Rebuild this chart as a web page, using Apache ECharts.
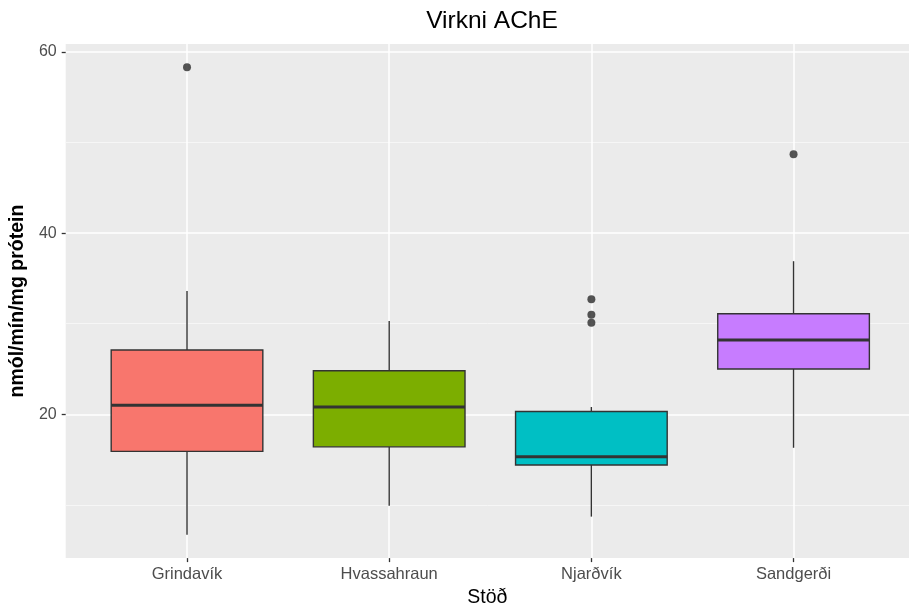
<!DOCTYPE html>
<html>
<head>
<meta charset="utf-8">
<script src="https://cdn.jsdelivr.net/npm/echarts@6/dist/echarts.min.js"></script>
<style>
  html, body { margin: 0; padding: 0; background: #ffffff; }
  #chart { width: 909px; height: 613px; }
</style>
</head>
<body>
<div id="chart"></div>
<script>
// ---- data ----
const categories = ['Grindavík', 'Hvassahraun', 'Njarðvík', 'Sandgerði'];
// [lower whisker, Q1, median, Q3, upper whisker]
const grindavik   = [6.7, 15.9, 21.0, 27.1, 33.6];
const hvassahraun = [9.9, 16.4, 20.8, 24.8, 30.3];
const njardvik    = [8.7, 14.4, 15.3, 20.3, 20.8];
const sandgerdi   = [16.3, 25.0, 28.2, 31.1, 36.9];
const boxStats = [grindavik, hvassahraun, njardvik, sandgerdi];
// outliers: [category index, value]
const outliers = [[0, 58.3], [2, 32.7], [2, 31.0], [2, 30.1], [3, 48.7]];
const fillColors = ['#F8766D', '#7CAE00', '#00BFC4', '#C77CFF'];
const yMajorTicks = [20, 40, 60];
const yMinorTicks = [10, 30, 50];

// ---- chart ----
const chart = echarts.init(document.getElementById('chart'), null, { renderer: 'canvas' });

const boxData = boxStats.map((s, i) => [i + 1].concat(s).concat([i]));
const outlierData = outliers.map(o => [o[0] + 1, o[1]]);
const xPositions = categories.map((c, i) => i + 1);

const FONT = 'Liberation Sans, Arial, sans-serif';

const option = {
  animation: false,
  backgroundColor: '#ffffff',
  textStyle: { fontFamily: FONT },
  title: {
    text: 'Virkni AChE',
    left: 487,
    top: 4,
    textAlign: 'center',
    textStyle: { fontSize: 24.5, fontWeight: 'normal', color: '#000000', fontFamily: FONT }
  },
  grid: {
    left: 61, right: 0, top: 44, bottom: 48,
    show: true, backgroundColor: '#EBEBEB', borderWidth: 0
  },
  xAxis: {
    type: 'value',
    min: 0.4, max: 4.571,
    name: 'Stöð',
    nameLocation: 'middle',
    nameGap: 27,
    nameTextStyle: { fontSize: 19.5, color: '#000000', fontFamily: FONT },
    axisLine: { show: false },
    axisTick: { show: true, length: 4, customValues: xPositions, lineStyle: { color: '#333333', width: 1.3 } },
    axisLabel: {
      customValues: xPositions,
      margin: 8, fontSize: 16.5, color: '#4D4D4D', fontFamily: FONT,
      formatter: v => categories[Math.round(v) - 1] || ''
    },
    splitLine: { show: true, lineStyle: { color: '#ffffff', width: 1.5 } }
  },
  yAxis: [
    {
      type: 'value',
      min: 4.12, max: 60.88,
      name: 'nmól/mín/mg prótein',
      nameLocation: 'middle',
      nameGap: 34,
      nameTextStyle: { fontSize: 19.5, fontWeight: 'bold', color: '#000000', fontFamily: FONT },
      axisLine: { show: false },
      axisTick: { show: true, length: 4, customValues: yMajorTicks, lineStyle: { color: '#333333', width: 1.3 } },
      axisLabel: { customValues: yMajorTicks, margin: 9, fontSize: 16, color: '#4D4D4D', fontFamily: FONT },
      splitLine: { show: true, lineStyle: { color: '#ffffff', width: 1.5 } }
    },
    {
      type: 'value',
      min: 4.12, max: 60.88,
      position: 'left',
      axisLine: { show: false },
      axisTick: { show: false, customValues: yMinorTicks },
      axisLabel: { show: false, customValues: yMinorTicks },
      splitLine: { show: true, lineStyle: { color: '#F7F7F7', width: 0.9 } }
    }
  ],
  series: [
    {
      type: 'custom',
      yAxisIndex: 0,
      data: boxData,
      encode: { x: 0, y: [1, 2, 3, 4, 5] },
      z: 3,
      renderItem: function (params, api) {
        const x = api.value(0);
        const mn = api.value(1), q1 = api.value(2), md = api.value(3), q3 = api.value(4), mx = api.value(5);
        const ci = api.value(6);
        const half = api.size([1, 0])[0] * 0.375;
        const pMin = api.coord([x, mn]);
        const pQ1 = api.coord([x, q1]);
        const pMd = api.coord([x, md]);
        const pQ3 = api.coord([x, q3]);
        const pMax = api.coord([x, mx]);
        const cx = pMd[0];
        const stroke = '#333333';
        return {
          type: 'group',
          children: [
            { type: 'line', shape: { x1: cx, y1: pMin[1], x2: cx, y2: pQ1[1] }, style: { stroke: stroke, lineWidth: 1.4 } },
            { type: 'line', shape: { x1: cx, y1: pQ3[1], x2: cx, y2: pMax[1] }, style: { stroke: stroke, lineWidth: 1.4 } },
            { type: 'rect', shape: { x: cx - half, y: pQ3[1], width: half * 2, height: pQ1[1] - pQ3[1] },
              style: { fill: fillColors[ci], stroke: stroke, lineWidth: 1.4 } },
            { type: 'line', shape: { x1: cx - half, y1: pMd[1], x2: cx + half, y2: pMd[1] }, style: { stroke: stroke, lineWidth: 3 } }
          ]
        };
      }
    },
    {
      type: 'scatter',
      yAxisIndex: 0,
      data: outlierData,
      symbol: 'circle',
      symbolSize: 8,
      itemStyle: { color: '#2b2b2b' },
      z: 4
    }
  ]
};

chart.setOption(option);
</script>
</body>
</html>
